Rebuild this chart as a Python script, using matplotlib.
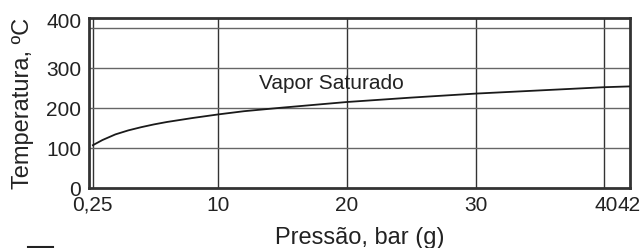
import matplotlib.pyplot as plt
import matplotlib.transforms as mtransforms
from matplotlib.lines import Line2D

plt.rcParams['font.family'] = ['Liberation Sans', 'DejaVu Sans']

# saturated steam curve
pressure = [0.25, 1, 2, 3, 4, 5, 6, 8, 10, 12, 15, 20, 25, 30, 35, 40, 42]
temperature = [107, 120, 134, 144, 152, 159, 165, 175, 184, 192, 201, 215, 226, 236, 244, 252, 254]

xticks = [0.25, 10, 20, 30, 40, 42]
xtick_labels = ["0,25", "10", "20", "30", "40", "42"]
yticks = [0, 100, 200, 300, 400]

fig = plt.figure(figsize=(6.44, 2.48), dpi=100)
ax = fig.add_axes([89 / 644, 1 - 188 / 248, 541 / 644, 170 / 248])

ax.set_xlim(-0.05, 42)
ax.set_ylim(0, 425)

# grid
for x in [0.25, 10, 20, 30, 40]:
    ax.axvline(x, color='#333333', lw=1.0, zorder=1)
for y in [100, 200, 300, 400]:
    ax.axhline(y, color='#666666', lw=1.0, zorder=1)

ax.plot(pressure, temperature, color='#1a1a1a', lw=1.3, zorder=3)
ax.text(18.8, 262, "Vapor Saturado", ha='center', va='center', fontsize=15, color='#222222')

ax.set_xticks(xticks)
ax.set_xticklabels(xtick_labels)
ax.set_yticks(yticks)
ax.tick_params(length=0, labelsize=15, colors='#222222')
ax.tick_params(axis='x', pad=5.5)
ax.tick_params(axis='y', pad=5.5)

def nudge(label, dx, dy):
    label.set_transform(label.get_transform() + mtransforms.ScaledTranslation(dx / 100, dy / 100, fig.dpi_scale_trans))

# the "400" label sits a bit above its gridline; "40" and "42" run together
nudge(ax.get_yticklabels()[-1], 0, 8)
nudge(ax.get_xticklabels()[4], 1.5, 0)
nudge(ax.get_xticklabels()[5], -1, 0)

for sp in ax.spines.values():
    sp.set_linewidth(2.0)
    sp.set_color('#333333')

ax.set_xlabel("Pressão, bar (g)", fontsize=17, color='#222222', labelpad=9)
ax.set_ylabel("Temperatura, ºC", fontsize=17, color='#222222', labelpad=9)

fig.add_artist(Line2D([28 / 644, 53 / 644], [1 - 246.5 / 248] * 2, color='#222222', lw=1.5))

fig.savefig("out.png", dpi=100)
